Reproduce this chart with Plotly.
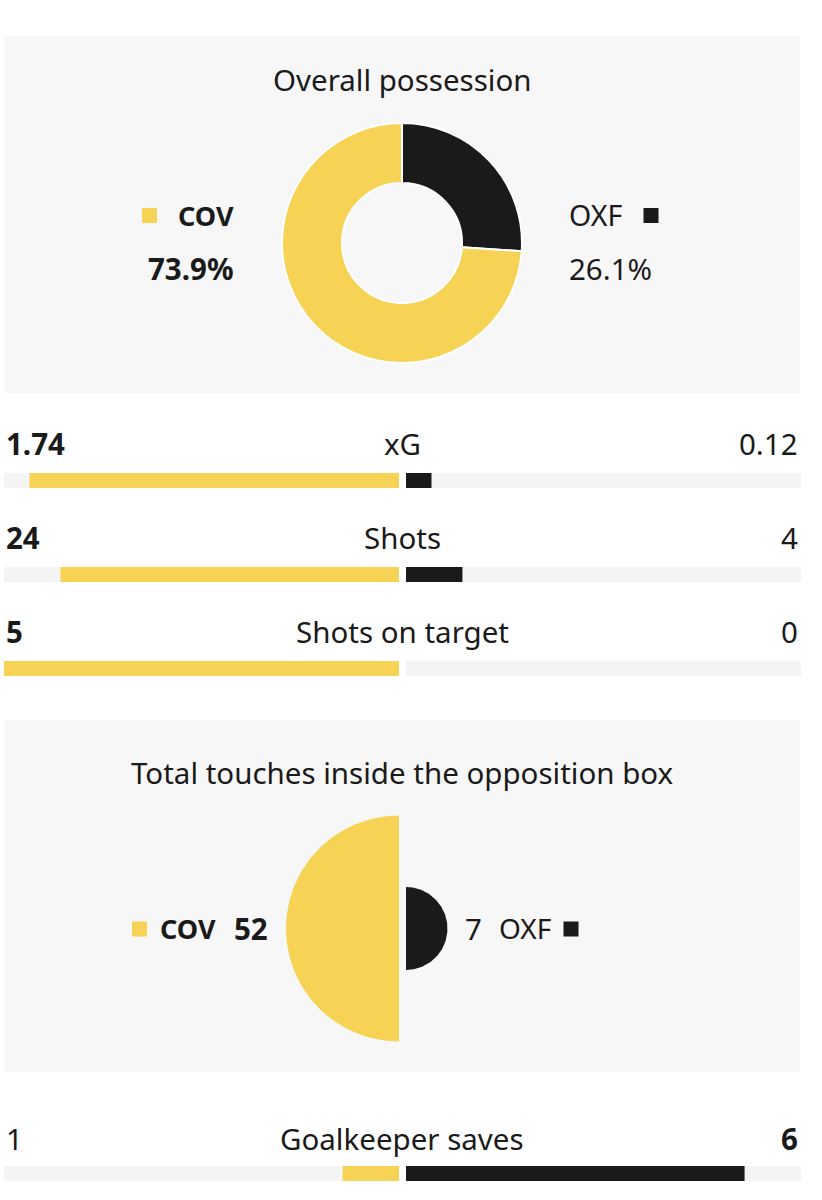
import numpy as np
import plotly.graph_objects as go

# ---------------- data ----------------
teams = ["COV", "OXF"]
team_colors = ["#f6d355", "#1a1a1a"]

possession_title = "Overall possession"
possession = [73.9, 26.1]          # COV, OXF (%)

stat_labels = ["xG", "Shots", "Shots on target", "Goalkeeper saves"]
cov_stats = [1.74, 24, 5, 1]
oxf_stats = [0.12, 4, 0, 6]
cov_stat_text = ["1.74", "24", "5", "1"]
oxf_stat_text = ["0.12", "4", "0", "6"]

touches_title = "Total touches inside the opposition box"
touches = [52, 7]                  # COV, OXF

# ---------------- layout helpers (pixel geometry) ----------------
W, H = 822, 1200
TXT = "#1a1a1a"
BG = "#f7f7f7"
TRACK = "#f4f4f4"
FONT = "Noto Sans"
FS = 29.5
FS_TEAM = 27

def px(x):
    return x / W

def py(y):
    return 1 - y / H

fig = go.Figure()
annotations = []
shapes = []

def text(x, y, s, anchor="center", bold=False, size=FS):
    annotations.append(dict(
        x=px(x), y=py(y), xref="paper", yref="paper",
        text=f"<b>{s}</b>" if bold else s, showarrow=False,
        xanchor=anchor, yanchor="middle",
        font=dict(family=FONT, size=size, color=TXT)))

def panel(y0, y1):
    shapes.append(dict(type="rect", xref="paper", yref="paper",
                       x0=px(4), x1=px(800), y0=py(y1), y1=py(y0),
                       fillcolor=BG, line=dict(width=0), layer="below"))

def key(x, y, color, size=15):
    shapes.append(dict(type="rect", xref="paper", yref="paper",
                       x0=px(x - size / 2), x1=px(x + size / 2),
                       y0=py(y + size / 2), y1=py(y - size / 2),
                       fillcolor=color, line=dict(width=0)))

# ---------------- possession panel ----------------
panel(36, 393)
text(402, 80, possession_title)
fig.add_trace(go.Pie(
    labels=teams[::-1], values=possession[::-1],
    marker=dict(colors=team_colors[::-1], line=dict(color="white", width=2)),
    hole=0.5, sort=False, direction="clockwise", rotation=0,
    textinfo="none", hoverinfo="label+percent", showlegend=False,
    domain=dict(x=[px(282), px(522)], y=[py(363), py(123)])))
key(149.5, 215.5, team_colors[0])
text(236, 215, teams[0], anchor="right", bold=True, size=FS_TEAM)
text(236, 268, f"{possession[0]:.1f}%", anchor="right", bold=True)
key(651, 215.5, team_colors[1])
text(567, 215, teams[1], anchor="left", size=28.5)
text(567, 268, f"{possession[1]:.1f}%", anchor="left")

# ---------------- stat bar rows ----------------
row_text_y = [443, 538, 632, 1138]
row_bar_y = [(473, 488), (567, 582), (661, 676), (1166, 1181)]
left_px, right_px, gap_px = 4, 801, 3.5
half_px = (right_px - left_px) / 2 - gap_px
g = gap_px / half_px

layout_axes = {}
for i, lab in enumerate(stat_labels):
    n = i + 1
    xa = "x" if n == 1 else f"x{n}"
    ya = "y" if n == 1 else f"y{n}"
    total = cov_stats[i] + oxf_stats[i]
    cs = cov_stats[i] / total if total else 0
    os_ = oxf_stats[i] / total if total else 0
    # tracks
    fig.add_trace(go.Bar(y=[0], x=[-1], base=[-g], orientation="h", width=1,
                         marker=dict(color=TRACK, line=dict(width=0)),
                         xaxis=xa, yaxis=ya, showlegend=False, hoverinfo="skip"))
    fig.add_trace(go.Bar(y=[0], x=[1], base=[g], orientation="h", width=1,
                         marker=dict(color=TRACK, line=dict(width=0)),
                         xaxis=xa, yaxis=ya, showlegend=False, hoverinfo="skip"))
    # values
    fig.add_trace(go.Bar(y=[0], x=[-cs], base=[-g], orientation="h", width=1,
                         marker=dict(color=team_colors[0], line=dict(width=0)),
                         xaxis=xa, yaxis=ya, showlegend=False,
                         name=teams[0], hovertext=[cov_stat_text[i]], hoverinfo="name+text"))
    fig.add_trace(go.Bar(y=[0], x=[os_], base=[g], orientation="h", width=1,
                         marker=dict(color=team_colors[1], line=dict(width=0)),
                         xaxis=xa, yaxis=ya, showlegend=False,
                         name=teams[1], hovertext=[oxf_stat_text[i]], hoverinfo="name+text"))
    b0, b1 = row_bar_y[i]
    xkey = "xaxis" if n == 1 else f"xaxis{n}"
    ykey = "yaxis" if n == 1 else f"yaxis{n}"
    layout_axes[xkey] = dict(domain=[px(left_px), px(right_px)], range=[-(1 + g), 1 + g],
                             visible=False, fixedrange=True, anchor=ya)
    layout_axes[ykey] = dict(domain=[py(b1), py(b0)], range=[-0.5, 0.5],
                             visible=False, fixedrange=True, anchor=xa)
    ty = row_text_y[i]
    cov_bold = cov_stats[i] > oxf_stats[i]
    text(4, ty, cov_stat_text[i], anchor="left", bold=cov_bold)
    text(402, ty, lab)
    text(800, ty, oxf_stat_text[i], anchor="right", bold=not cov_bold)

# ---------------- touches panel ----------------
panel(720, 1072)
text(402, 772, touches_title)
n = len(stat_labels) + 1
k = 113 / np.sqrt(max(touches))     # px per sqrt-unit
cx_px, cy_px = 402.5, 928.5
p0, p1 = 720, 1072
for j, (v, col) in enumerate(zip(touches, team_colors)):
    r = np.sqrt(v)
    if j == 0:
        t = np.linspace(np.pi / 2, 3 * np.pi / 2, 120)
        c = -gap_px / k
    else:
        t = np.linspace(-np.pi / 2, np.pi / 2, 120)
        c = gap_px / k
    xs = np.concatenate([c + r * np.cos(t), [c + r * np.cos(t[0])]])
    ys = np.concatenate([r * np.sin(t), [r * np.sin(t[0])]])
    fig.add_trace(go.Scatter(x=xs, y=ys, mode="lines", fill="toself",
                             fillcolor=col, line=dict(width=0, color=col),
                             xaxis=f"x{n}", yaxis=f"y{n}", showlegend=False,
                             name=teams[j], hoveron="fills", text=str(v)))
layout_axes[f"xaxis{n}"] = dict(domain=[px(left_px), px(right_px)],
                                range=[(left_px - cx_px) / k, (right_px - cx_px) / k],
                                visible=False, fixedrange=True, anchor=f"y{n}")
layout_axes[f"yaxis{n}"] = dict(domain=[py(p1), py(p0)],
                                range=[-(p1 - cy_px) / k, (cy_px - p0) / k],
                                visible=False, fixedrange=True, anchor=f"x{n}")
key(139.5, 929, team_colors[0])
text(218, 928, teams[0], anchor="right", bold=True, size=FS_TEAM)
text(270, 928, str(touches[0]), anchor="right", bold=True)
text(463, 928, str(touches[1]), anchor="left")
text(497, 928, teams[1], anchor="left", size=28)
key(571, 929, team_colors[1])

fig.update_layout(
    width=W, height=H, margin=dict(l=0, r=0, t=0, b=0),
    paper_bgcolor="white", plot_bgcolor="rgba(0,0,0,0)",
    barmode="overlay", annotations=annotations, shapes=shapes,
    font=dict(family=FONT, color=TXT), **layout_axes)

fig.write_html("out.html", config={"displayModeBar": False},
               post_script="document.body.style.margin='0';document.body.style.overflow='hidden';")
